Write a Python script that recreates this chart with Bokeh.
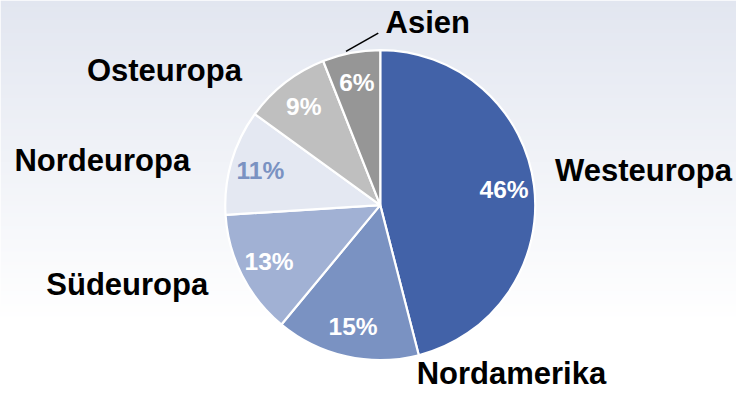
import numpy as np
from bokeh.plotting import figure
from bokeh.models import Range1d, ColumnDataSource
from bokeh.core.properties import value
from bokeh.embed import file_html
from bokeh.resources import INLINE

# ---- data ----
regions = ["Westeuropa", "Nordamerika", "Südeuropa", "Nordeuropa", "Osteuropa", "Asien"]
shares = [46, 15, 13, 11, 9, 6]
pct_labels = ["46%", "15%", "13%", "11%", "9%", "6%"]

# ---- style ----
colors = ["#4262A8", "#7A92C2", "#A1B1D4", "#E4E8F2", "#BFBFBF", "#969696"]
pct_colors = ["white", "white", "white", "#7A92C2", "white", "white"]
FONT = value("Liberation Sans")

W, H = 736, 391
REF_W, REF_H = 752, 407
SX, SY = W / REF_W, H / REF_H


def X(px):  # reference x -> data x
    return px * SX


def Y(py):  # reference y -> data y (upwards)
    return H - py * SY


p = figure(width=W, height=H, x_range=Range1d(0, W), y_range=Range1d(0, H),
           output_backend="svg", toolbar_location=None, min_border=0)
p.axis.visible = False
p.grid.visible = False
p.outline_line_color = None
p.background_fill_color = "white"
p.border_fill_color = "white"

# ---- gradient background ----
top = np.array([226, 230, 240], dtype=float)
img = np.zeros((H, 4, 4), dtype=np.uint8)
for i in range(H):
    ref_y = (H - i - 0.5) / SY
    t = min(max(ref_y / 335.0, 0.0), 1.0)
    c = top + (255 - top) * t
    img[i, :, 0] = int(round(c[0]))
    img[i, :, 1] = int(round(c[1]))
    img[i, :, 2] = int(round(c[2]))
    img[i, :, 3] = 255
p.image_rgba(image=[img.view(dtype=np.uint32).reshape((H, 4))], x=0, y=0, dw=W, dh=H)

# ---- pie ----
cx, cy = X(388), Y(213)
R = 155
fr = np.array(shares, dtype=float) / sum(shares)
cum = np.concatenate([[0], np.cumsum(fr)])
start = np.pi / 2 - 2 * np.pi * cum[:-1]
end = np.pi / 2 - 2 * np.pi * cum[1:]
mid = (start + end) / 2

src = ColumnDataSource(dict(start=start, end=end, color=colors, region=regions))
p.wedge(x=cx, y=cy, radius=R, radius_units="screen", start_angle="start", end_angle="end",
        direction="clock", fill_color="color", line_color="white", line_width=2.2, source=src)

# ---- percent labels ----
PCT_SIZE = 24.5
BASE_FIX = 0.36  # empirical shift so that the glyph baseline lands on target
rr = 0.805 * R
px_ = cx + rr * np.cos(mid)
py_ = cy + rr * np.sin(mid) - 0.36 * PCT_SIZE + BASE_FIX * PCT_SIZE
psrc = ColumnDataSource(dict(x=px_, y=py_, t=pct_labels, c=pct_colors))
p.text(x="x", y="y", text="t", text_color="c", source=psrc, text_align="center",
       text_baseline="alphabetic", text_font=FONT, text_font_style="bold",
       text_font_size=f"{PCT_SIZE}px")

# ---- category labels (layout anchors in reference px: center x, baseline y) ----
LBL_SIZE = 31
label_pos = {
    "Westeuropa": (657, 189),
    "Nordamerika": (522, 400),
    "Südeuropa": (129.5, 307),
    "Nordeuropa": (104, 178),
    "Osteuropa": (167.5, 85),
    "Asien": (436.5, 35),
}
lsrc = ColumnDataSource(dict(
    x=[X(label_pos[r][0]) for r in regions],
    y=[Y(label_pos[r][1]) + BASE_FIX * LBL_SIZE for r in regions],
    t=regions))
p.text(x="x", y="y", text="t", text_color="black", source=lsrc, text_align="center",
       text_baseline="alphabetic", text_font=FONT, text_font_style="bold",
       text_font_size=f"{LBL_SIZE}px")

# leader line for Asien
p.line(x=[X(353), X(386)], y=[Y(53), Y(34)], line_color="black", line_width=1.6)

open("out.html", "w").write(file_html(p, INLINE))
